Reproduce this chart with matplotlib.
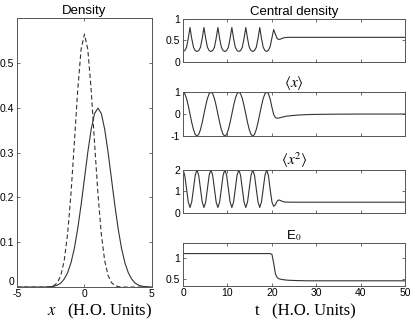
import matplotlib
matplotlib.use("Agg")
import matplotlib.pyplot as plt

plt.rcParams['font.family'] = ['Liberation Sans', 'DejaVu Sans']
plt.rcParams['mathtext.fontset'] = 'stix'
plt.rcParams['axes.unicode_minus'] = False

# ---- left panel: density profiles ----
x_pos = [-5.0, -4.75, -4.5, -4.25, -4.0, -3.75, -3.5, -3.25, -3.0, -2.75,
         -2.5, -2.25, -2.0, -1.75, -1.5, -1.25, -1.0, -0.75, -0.5, -0.25,
         0.0, 0.25, 0.5, 0.75, 1.0, 1.25, 1.5, 1.75, 2.0, 2.25,
         2.5, 2.75, 3.0, 3.25, 3.5, 3.75, 4.0, 4.25, 4.5, 4.75, 5.0]
dens_initial = [0, 0, 0, 0, 0, 0, 0, 0, 0, 0.0003,
                0.0009, 0.002, 0.0044, 0.0091, 0.018, 0.032, 0.054, 0.086, 0.13, 0.183,
                0.242, 0.301, 0.352, 0.387, 0.399, 0.387, 0.352, 0.301, 0.242, 0.183,
                0.13, 0.086, 0.054, 0.032, 0.018, 0.0091, 0.0044, 0.002, 0.0009, 0.0003, 0.0001]
dens_ground = [0, 0, 0, 0, 0, 0, 0, 0, 0, 0,
               0.001, 0.0036, 0.01, 0.026, 0.059, 0.118, 0.208, 0.321, 0.439, 0.53,
               0.564, 0.53, 0.439, 0.321, 0.208, 0.118, 0.059, 0.026, 0.01, 0.0036,
               0.001, 0, 0, 0, 0, 0, 0, 0, 0, 0, 0]

# ---- right panels: time series ----
t = [0.00, 0.39, 0.79, 1.18, 1.57, 1.96, 2.36, 2.75,
     3.14, 3.53, 3.93, 4.32, 4.71, 5.11, 5.50, 5.89,
     6.28, 6.68, 7.07, 7.46, 7.85, 8.25, 8.64, 9.03,
     9.42, 9.82, 10.21, 10.60, 11.00, 11.39, 11.78, 12.17,
     12.57, 12.96, 13.35, 13.74, 14.14, 14.53, 14.92, 15.32,
     15.71, 16.10, 16.49, 16.89, 17.28, 17.67, 18.06, 18.46,
     18.85, 19.24, 19.63, 20.03, 20.42, 20.81, 21.21, 21.60,
     21.99, 22.38, 22.78, 23.17, 23.56,
     24.5, 26.0, 28.0, 30.0, 35.0, 40.0, 45.0, 50.0]

central = [0.242, 0.262, 0.338, 0.543, 0.798, 0.543, 0.338, 0.262,
           0.242, 0.262, 0.338, 0.543, 0.798, 0.543, 0.338, 0.262,
           0.242, 0.262, 0.338, 0.543, 0.798, 0.543, 0.338, 0.262,
           0.242, 0.262, 0.338, 0.543, 0.798, 0.543, 0.338, 0.262,
           0.242, 0.262, 0.338, 0.543, 0.798, 0.543, 0.338, 0.262,
           0.242, 0.262, 0.338, 0.543, 0.798, 0.543, 0.338, 0.262,
           0.242, 0.27, 0.36, 0.56, 0.75, 0.64, 0.54, 0.52,
           0.53, 0.55, 0.56, 0.565, 0.57,
           0.57, 0.57, 0.57, 0.57, 0.57, 0.57, 0.57, 0.57]

mean_x = [1.0, 0.924, 0.707, 0.383, 0.0, -0.383, -0.707, -0.924,
          -1.0, -0.924, -0.707, -0.383, 0.0, 0.383, 0.707, 0.924,
          1.0, 0.924, 0.707, 0.383, 0.0, -0.383, -0.707, -0.924,
          -1.0, -0.924, -0.707, -0.383, 0.0, 0.383, 0.707, 0.924,
          1.0, 0.924, 0.707, 0.383, 0.0, -0.383, -0.707, -0.924,
          -1.0, -0.924, -0.707, -0.383, 0.0, 0.383, 0.707, 0.924,
          1.0, 0.92, 0.68, 0.30, -0.02, -0.16, -0.19, -0.18,
          -0.16, -0.14, -0.12, -0.10, -0.09,
          -0.07, -0.045, -0.025, -0.015, -0.005, 0.0, 0.0, 0.0]

mean_x2 = [2.0, 1.744, 1.125, 0.506, 0.25, 0.506, 1.125, 1.744,
           2.0, 1.744, 1.125, 0.506, 0.25, 0.506, 1.125, 1.744,
           2.0, 1.744, 1.125, 0.506, 0.25, 0.506, 1.125, 1.744,
           2.0, 1.744, 1.125, 0.506, 0.25, 0.506, 1.125, 1.744,
           2.0, 1.744, 1.125, 0.506, 0.25, 0.506, 1.125, 1.744,
           2.0, 1.744, 1.125, 0.506, 0.25, 0.506, 1.125, 1.744,
           2.0, 1.72, 1.08, 0.50, 0.30, 0.38, 0.55, 0.60,
           0.57, 0.53, 0.51, 0.50, 0.50,
           0.495, 0.495, 0.495, 0.495, 0.495, 0.495, 0.495, 0.495]

energy = [1.12] * 51 + [1.10, 0.88, 0.62, 0.53, 0.50,
                        0.49, 0.48, 0.475, 0.47, 0.465,
                        0.46, 0.455, 0.45, 0.45, 0.45, 0.45, 0.45, 0.45]

line_col = '#333333'
spine_col = '#555555'
tick_fs = 7.5


def style(ax):
    ax.tick_params(direction='in', top=True, right=True, length=2.5, width=0.6,
                   labelsize=tick_fs, pad=2, colors=spine_col, labelcolor='black')
    for s in ax.spines.values():
        s.set_color(spine_col)
        s.set_linewidth(0.7)


fig = plt.figure(figsize=(4.15, 3.24), dpi=100)

ax0 = fig.add_axes([0.041, 0.114, 0.325, 0.829])
ax0.plot(x_pos, dens_initial, color=line_col, lw=0.8)
ax0.plot(x_pos, dens_ground, color=line_col, lw=0.8, ls=(0, (4, 2.5)))
ax0.set_xlim(-5, 5)
ax0.set_ylim(0, 0.599)
ax0.set_xticks([-5, 0, 5])
ax0.set_yticks([0, 0.1, 0.2, 0.3, 0.4, 0.5])
ax0.set_yticklabels(['0', '0.1', '0.2', '0.3', '0.4', '0.5'])
ax0.set_title('Density', fontsize=9.5, pad=3)
style(ax0)
ax0.tick_params(axis='x', pad=1.5)
ax0.get_yticklabels()[0].set_verticalalignment('bottom')

rl, rw = 0.441, 0.535
ax1 = fig.add_axes([rl, 0.809, rw, 0.133])
ax2 = fig.add_axes([rl, 0.580, rw, 0.136])
ax3 = fig.add_axes([rl, 0.343, rw, 0.133])
ax4 = fig.add_axes([rl, 0.117, rw, 0.133])

ax1.plot(t, central, color=line_col, lw=0.8)
ax1.set_ylim(0, 1)
ax1.set_yticks([0, 0.5, 1])
ax1.set_yticklabels(['0', '0.5', '1'])
ax1.set_title('Central density', fontsize=9.5, pad=3)

ax2.plot(t, mean_x, color=line_col, lw=0.8)
ax2.set_ylim(-1, 1)
ax2.set_yticks([-1, 0, 1])
ax2.set_title(r'$\langle x \rangle$', fontsize=11, pad=3)

ax3.plot(t, mean_x2, color=line_col, lw=0.8)
ax3.set_ylim(0, 2)
ax3.set_yticks([0, 1, 2])
ax3.set_title(r'$\langle x^2 \rangle$', fontsize=11, pad=3)

ax4.plot(t, energy, color=line_col, lw=0.8)
ax4.set_ylim(0.32, 1.38)
ax4.set_yticks([0.5, 1])
ax4.set_yticklabels(['0.5', '1'])
ax4.set_title(r'E$_0$', fontsize=9.5, pad=3)

for ax in (ax1, ax2, ax3, ax4):
    ax.set_xlim(0, 50)
    ax.set_xticks([0, 10, 20, 30, 40, 50])
    style(ax)
    ax.tick_params(axis='x', pad=1.5)
    if ax is not ax4:
        ax.set_xticklabels([])

fig.text(0.24, 0.04, r'$x$   (H.O. Units)', family='Liberation Serif',
         fontsize=12, ha='center', va='center')
fig.text(0.735, 0.04, 't   (H.O. Units)', family='Liberation Serif',
         fontsize=12, ha='center', va='center')

fig.savefig('out.png', dpi=100)
